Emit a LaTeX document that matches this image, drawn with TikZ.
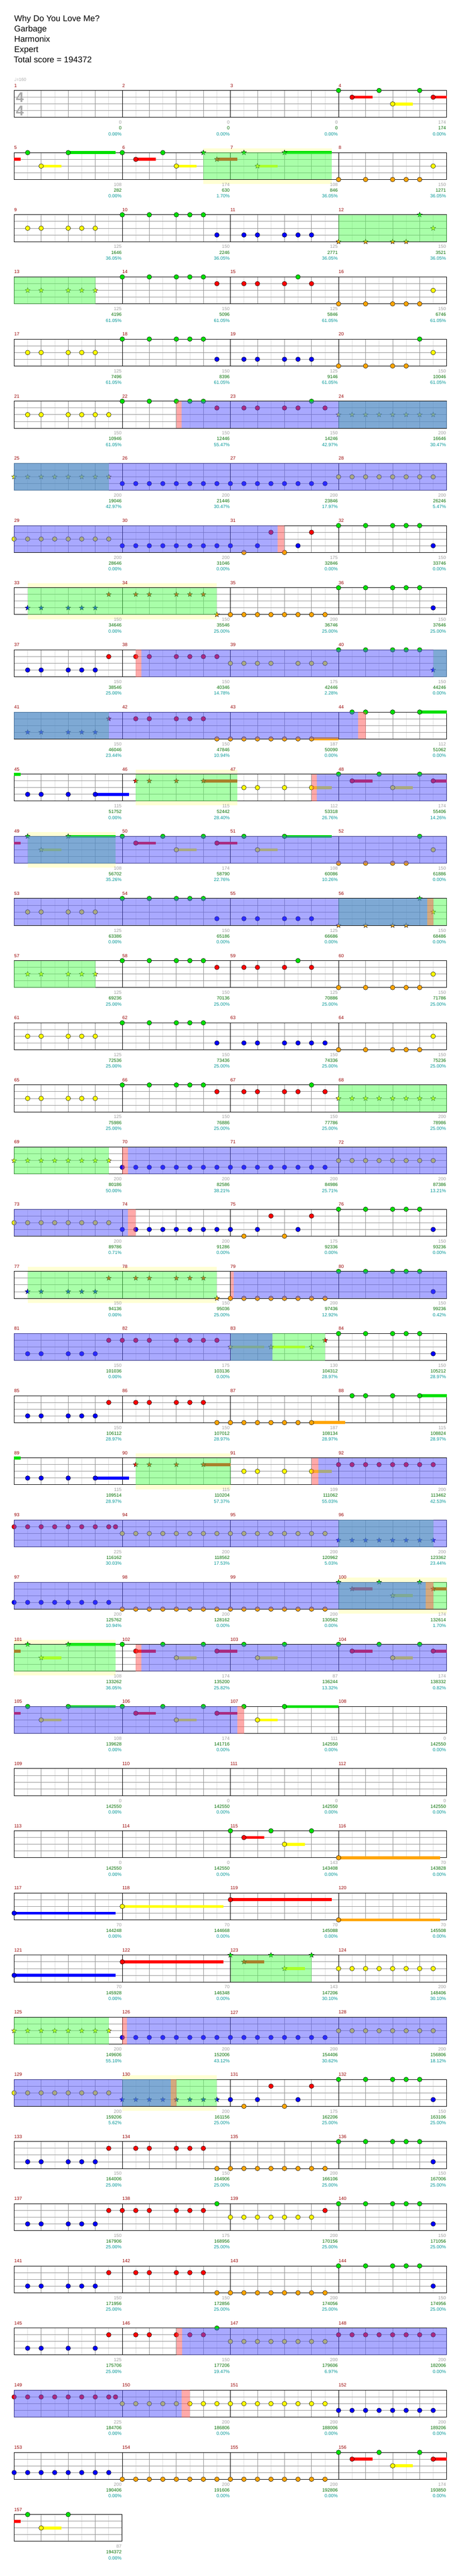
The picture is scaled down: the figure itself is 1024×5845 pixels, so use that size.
\documentclass[tikz,border=0pt]{standalone}
\usepackage{fontspec}
\setmainfont{Liberation Sans}
\newfontfamily\tempofont{DejaVu Sans}
\usepackage{tikz}
\usetikzlibrary{shapes.geometric}
\usepackage{xcolor}
\definecolor{Lane0}{HTML}{00E000}
\definecolor{Lane1}{HTML}{FF0000}
\definecolor{Lane2}{HTML}{FFFF00}
\definecolor{Lane3}{HTML}{0000FF}
\definecolor{Lane4}{HTML}{FFA500}
\definecolor{SpGreen}{RGB}{85,255,85}
\definecolor{OdBlue}{RGB}{85,85,255}
\definecolor{HitRed}{RGB}{255,85,85}
\definecolor{GlowYellow}{RGB}{255,255,212}
\definecolor{GridLight}{RGB}{222,222,222}
\definecolor{GridGray}{RGB}{150,150,150}
\definecolor{BarRed}{RGB}{153,0,0}
\definecolor{ScoreGray}{RGB}{160,160,160}
\definecolor{TotalGreen}{RGB}{0,110,0}
\definecolor{PctTeal}{RGB}{0,150,150}
\definecolor{SigGray}{RGB}{170,170,170}

\pgfdeclarelayer{base}
\pgfdeclarelayer{bg}
\pgfdeclarelayer{sp}
\pgfdeclarelayer{over}
\pgfsetlayers{base,bg,main,sp,over}

\tikzset{
  eighthline/.style={draw=GridLight, line width=0.8pt},
  beatline/.style={draw=GridGray, line width=0.8pt},
  barline/.style={draw=black, line width=0.8pt},
  laneline/.style={draw=GridGray, line width=1.1pt},
  staffline/.style={draw=black, line width=1.2pt},
  gem/.style={draw=black, line width=0.6pt},
  stargem/.style={star, star points=5, star point ratio=2.3, minimum size=12pt,
    inner sep=0pt, draw=black, line width=0.5pt},
  barnum/.style={anchor=west, inner sep=0pt, text=BarRed, font=\fontsize{10.5}{12}\selectfont},
  scorelab/.style={anchor=east, inner sep=0pt, xshift=-1.5pt, text=ScoreGray, font=\fontsize{10.5}{12}\selectfont},
  totallab/.style={anchor=east, inner sep=0pt, xshift=-1.5pt, text=TotalGreen, font=\fontsize{10.5}{12}\selectfont},
  pctlab/.style={anchor=east, inner sep=0pt, xshift=-1.5pt, text=PctTeal, font=\fontsize{10.5}{12}\selectfont},
  titletext/.style={anchor=base west, inner sep=0pt, font=\fontsize{19}{22}\selectfont},
  timesig/.style={inner sep=0pt, text=SigGray, font=\fontsize{32}{36}\selectfont\bfseries},
  tempo/.style={anchor=west, inner sep=0pt, text=SigGray, font=\fontsize{10}{12}\selectfont},
}

% one row of the chart: row, first bar, bars, scores, content
\newcommand{\chartRow}[5]{%
  \pgfmathsetmacro{\rtop}{205.3+141.03*(#1-1)}%
  \pgfmathtruncatemacro{\neighth}{8*#3}%
  \pgfmathtruncatemacro{\nlast}{8*#3-1}%
  \def\rowid{#1}%
  \begin{scope}[shift={(32,\rtop)}, x=30.625pt, y=-15.25pt]
    \fill[white] (0,0) rectangle (\neighth,4);
    \foreach \e in {1,...,\nlast} \draw[eighthline] (\e,0) -- (\e,4);
    \foreach \e in {2,4,...,\nlast} \draw[beatline] (\e,0) -- (\e,4);
    \foreach \e in {1,2,3} \draw[laneline] (0,\e) -- (\neighth,\e);
    \foreach \i in {1,...,#3} {
      \pgfmathtruncatemacro{\mnum}{#2+\i-1}
      \draw[barline] (8*\i-8,0) -- (8*\i-8,4);
      \node[barnum] (bar\mnum) at (8*\i-8,-0.74) {\mnum};
    }
    \foreach \msc/\mtot/\mpct [count=\i] in {#4} {
      \node[scorelab] (sc\rowid-\i) at (8*\i,4.75) {\msc};
      \node[totallab] (tot\rowid-\i) at (8*\i,5.6) {\mtot};
      \node[pctlab] (pct\rowid-\i) at (8*\i,6.47) {\mpct\%};
    }
    \draw[staffline] (0,0) rectangle (\neighth,4);
    #5
  \end{scope}}
\newcommand{\drawNotes}[2]{\foreach \p in {#2} \filldraw[gem, fill=Lane#1] (\p,#1) circle[radius=5.3pt];}
\newcommand{\drawStars}[2]{\foreach \p in {#2} \node[stargem, fill=Lane#1] (st\rowid-#1-\p) at (\p,#1) {};}
\newcommand{\drawSustain}[3]{\draw[line width=6.6pt, Lane#1] (#2,#1) -- (#3,#1);}
\newcommand{\spZone}[2]{\begin{pgfonlayer}{sp}\fill[SpGreen, opacity=0.5] (#1,0) rectangle (#2,4);\end{pgfonlayer}}
\newcommand{\odZone}[2]{\begin{pgfonlayer}{over}\fill[OdBlue, opacity=0.5] (#1,0) rectangle (#2,4);\end{pgfonlayer}}
\newcommand{\hitZone}[2]{\begin{pgfonlayer}{over}\fill[HitRed, opacity=0.5] (#1,0) rectangle (#2,4);\end{pgfonlayer}}
\newcommand{\glowZone}[2]{\begin{pgfonlayer}{bg}\fill[GlowYellow] (#1,-0.656) rectangle (#2,4.656);\end{pgfonlayer}}

\begin{document}
\begin{tikzpicture}[x=1pt, y=-1pt]
  \useasboundingbox (0,0) rectangle (1024,5845);
  \begin{pgfonlayer}{base}\fill[white] (0,0) rectangle (1024,5845);\end{pgfonlayer}

  \node[titletext] (song) at (32,48.3) {Why Do You Love Me?};
  \node[titletext] (artist) at (32,71.65) {Garbage};
  \node[titletext] (charter) at (32,95) {Harmonix};
  \node[titletext] (level) at (32,118.35) {Expert};
  \node[titletext] (total) at (31,141.7) {Total score = 194372};

  \chartRow{1}{1}{4}{0/0/0.00,0/0/0.00,0/0/0.00,174/174/0.00}{%
    \node[tempo] (tempo) at (0,-1.59) {{\tempofont ♩}=160};
    \node[timesig] (sigtop) at (0.42,1) {4};
    \node[timesig] (sigbot) at (0.42,3) {4};
    \drawSustain{1}{25}{26.5}\drawSustain{1}{31}{32}\drawSustain{2}{28}{29.5}
    \drawNotes{0}{24,27,30}\drawNotes{1}{25,31}\drawNotes{2}{28}}
  \chartRow{2}{5}{4}{108/282/0.00,174/630/1.70,108/846/36.05,150/1271/36.05}{%
    \glowZone{14}{23.5}\spZone{14}{23.5}
    \drawSustain{0}{4}{7.5}\drawSustain{0}{20}{23.5}
    \drawSustain{1}{0}{0.5}\drawSustain{1}{9}{10.5}\drawSustain{1}{15}{16.5}
    \drawSustain{2}{2}{3.5}\drawSustain{2}{12}{13.5}\drawSustain{2}{18}{19.5}
    \drawNotes{0}{1,4,8,11}\drawNotes{1}{9}\drawNotes{2}{2,12,31}\drawNotes{4}{24,26,28,29,30}
    \drawStars{0}{14,17,20}\drawStars{1}{15}\drawStars{2}{18}}
  \chartRow{3}{9}{4}{125/1646/36.05,150/2246/36.05,125/2771/36.05,150/3521/36.05}{%
    \spZone{24}{32}
    \drawNotes{2}{1,2,4,5,6}\drawNotes{0}{8,10,12,13,14}\drawNotes{3}{15,17,18,20,21,22}
    \drawStars{0}{30}\drawStars{2}{31}\drawStars{4}{24,26,28,29}}
  \chartRow{4}{13}{4}{125/4196/61.05,150/5096/61.05,125/5846/61.05,150/6746/61.05}{%
    \spZone{0}{6}
    \drawStars{2}{1,2,4,5,6}
    \drawNotes{0}{8,10,12,13,14,21}\drawNotes{1}{15,17,18,20,22}\drawNotes{2}{31}\drawNotes{4}{24,26,28,29,30}}
  \chartRow{5}{17}{4}{125/7496/61.05,150/8396/61.05,125/9146/61.05,150/10046/61.05}{%
    \drawNotes{2}{1,2,4,5,6,31}\drawNotes{0}{8,10,12,13,14,30}\drawNotes{3}{15,17,18,20,21,22}\drawNotes{4}{24,26,28,29}}
  \chartRow{6}{21}{4}{150/10946/61.05,150/12446/55.47,150/14246/42.97,200/16646/30.47}{%
    \hitZone{12}{12.4}\odZone{12.4}{32}\spZone{24}{32}
    \drawNotes{2}{1,2,4,5,6,7}\drawNotes{0}{8,10,12,13,14,22}\drawNotes{1}{15,17,18,20,21,23}
    \drawStars{2}{24,...,31}}
  \chartRow{7}{25}{4}{200/19046/42.97,200/21446/30.47,200/23846/17.97,200/26246/5.47}{%
    \spZone{0}{7}\odZone{0}{32}
    \drawStars{2}{0,...,7}\drawNotes{3}{8,...,23}\drawNotes{2}{24,...,31}}
  \chartRow{8}{29}{4}{200/28646/0.00,200/31046/0.00,175/32846/0.00,150/33746/0.00}{%
    \odZone{0}{19.5}\hitZone{19.5}{20}
    \drawNotes{2}{0,...,7}\drawNotes{3}{8,...,16,18,21,31}\drawNotes{4}{17,20}\drawNotes{1}{19,22}
    \drawNotes{0}{24,26,28,29,30}}
  \chartRow{9}{33}{4}{150/34646/0.00,150/35546/25.00,200/36746/25.00,150/37646/25.00}{%
    \glowZone{1}{15}\spZone{1}{15}
    \drawStars{3}{1,2,4,5,6}\drawStars{1}{7,9,10,12,13,14}\drawStars{4}{15}
    \drawNotes{4}{16,...,23}\drawNotes{0}{24,26,28,29,30}\drawNotes{3}{31}}
  \chartRow{10}{37}{4}{150/38546/25.00,150/40346/14.78,175/42446/2.28,150/44246/0.00}{%
    \hitZone{9}{9.43}\odZone{9.43}{32}\spZone{31}{32}
    \drawNotes{3}{1,2,4,5,6}\drawNotes{1}{7,9,10,12,13,14,15}\drawNotes{2}{16,17,18,19,21,22,23}
    \drawNotes{0}{24,26,28,29,30}\drawStars{3}{31}}
  \chartRow{11}{41}{4}{150/46046/23.44,150/47846/10.94,187/50090/0.00,112/51062/0.00}{%
    \spZone{0}{7}\odZone{0}{25.44}\hitZone{25.44}{26}
    \drawStars{3}{1,2,4,5,6}\drawStars{1}{7}
    \drawSustain{4}{22}{24}\drawSustain{0}{30}{32}
    \drawNotes{1}{9,10,12,13,14}\drawNotes{4}{15,...,22}\drawNotes{0}{25,26,28,30}}
  \chartRow{12}{45}{4}{115/51752/0.00,115/52442/28.40,112/53318/26.76,174/55406/14.26}{%
    \glowZone{9}{16.5}\spZone{9}{16.5}\hitZone{22}{22.4}\odZone{22.4}{32}
    \drawSustain{0}{0}{0.5}\drawSustain{3}{6}{8.5}\drawSustain{1}{14}{16.5}
    \drawSustain{1}{25}{26.5}\drawSustain{1}{31}{32}\drawSustain{2}{22}{23.5}\drawSustain{2}{28}{29.5}
    \drawNotes{3}{1,2,4,6}\drawNotes{2}{17,18,20,22,28}\drawNotes{0}{24,27,30}\drawNotes{1}{25,31}
    \drawStars{1}{9,10,12,14}}
  \chartRow{13}{49}{4}{108/56702/35.26,174/58790/22.76,108/60086/10.26,150/61886/0.00}{%
    \odZone{0}{32}\glowZone{1}{7.5}\spZone{1}{7.5}
    \drawSustain{1}{0}{0.5}\drawSustain{1}{9}{10.5}\drawSustain{1}{15}{16.5}
    \drawSustain{0}{4}{7.5}\drawSustain{0}{20}{23.5}
    \drawSustain{2}{2}{3.5}\drawSustain{2}{12}{13.5}\drawSustain{2}{18}{19.5}
    \drawStars{0}{1,4}\drawStars{2}{2}
    \drawNotes{0}{8,11,14,17,20,30}\drawNotes{1}{9,15}\drawNotes{2}{12,18,31}\drawNotes{4}{24,26,28,29}}
  \chartRow{14}{53}{4}{125/63386/0.00,150/65186/0.00,125/66686/0.00,150/68486/0.00}{%
    \odZone{0}{30.56}\hitZone{30.56}{31}\spZone{24}{32}
    \drawNotes{2}{1,2,4,5,6}\drawNotes{0}{8,10,12,13,14}\drawNotes{3}{15,17,18,20,21,22}
    \drawStars{4}{24,26,28,29}\drawStars{0}{30}\drawStars{2}{31}}
  \chartRow{15}{57}{4}{125/69236/25.00,150/70136/25.00,125/70886/25.00,150/71786/25.00}{%
    \spZone{0}{6}\drawStars{2}{1,2,4,5,6}
    \drawNotes{0}{8,10,12,13,14,21}\drawNotes{1}{15,17,18,20,22}\drawNotes{2}{31}\drawNotes{4}{24,26,28,29,30}}
  \chartRow{16}{61}{4}{125/72536/25.00,150/73436/25.00,150/74336/25.00,150/75236/25.00}{%
    \drawNotes{2}{1,2,4,5,6,31}\drawNotes{0}{8,10,12,13,14}\drawNotes{3}{15,17,18,20,21,22,23}
    \drawNotes{4}{24,26,28,29,30}}
  \chartRow{17}{65}{4}{125/75986/25.00,150/76886/25.00,150/77786/25.00,200/78986/25.00}{%
    \spZone{24}{32}
    \drawNotes{2}{1,2,4,5,6}\drawNotes{0}{8,10,12,13,14,22}\drawNotes{1}{15,17,18,20,21,23}
    \drawStars{2}{24,...,31}}
  \chartRow{18}{69}{4}{200/80186/50.00,200/82586/38.21,200/84986/25.71,200/87386/13.21}{%
    \spZone{0}{7}\hitZone{8}{8.43}\odZone{8.43}{32}
    \drawStars{2}{0,...,7}\drawNotes{3}{8,...,23}\drawNotes{2}{24,...,31}}
  \chartRow{19}{73}{4}{200/89786/0.71,200/91286/0.00,175/92336/0.00,150/93236/0.00}{%
    \odZone{0}{8.43}\hitZone{8.43}{9}
    \drawNotes{2}{0,...,7}\drawNotes{3}{8,...,16,18,21,31}\drawNotes{4}{17,20}\drawNotes{1}{19,22}
    \drawNotes{0}{24,26,28,29,30}}
  \chartRow{20}{77}{4}{150/94136/0.00,150/95036/25.00,200/97436/12.92,150/99236/0.42}{%
    \glowZone{1}{15}\spZone{1}{15}\hitZone{16}{16.26}\odZone{16.26}{32}
    \drawStars{3}{1,2,4,5,6}\drawStars{1}{7,9,10,12,13,14}\drawStars{4}{15}
    \drawNotes{4}{16,...,23}\drawNotes{0}{24,26,28,29,30}\drawNotes{3}{31}}
  \chartRow{21}{81}{4}{150/101036/0.00,175/103136/0.00,130/104312/28.97,150/105212/28.97}{%
    \odZone{0}{19.1}\spZone{16}{23}
    \drawNotes{3}{1,2,4,5,6,31}\drawNotes{1}{7,8,9,10,12,13,14,15}\drawNotes{0}{24,26,28,29,30}
    \drawSustain{2}{16}{18.5}\drawSustain{2}{19}{21.5}
    \drawStars{2}{16,19,22}\drawStars{1}{23}}
  \chartRow{22}{85}{4}{150/106112/28.97,150/107012/28.97,187/108134/28.97,115/108824/28.97}{%
    \drawSustain{4}{22}{24.5}\drawSustain{0}{30}{32}
    \drawNotes{3}{1,2,4,5,6}\drawNotes{1}{7,9,10,12,13,14}\drawNotes{4}{15,...,22}\drawNotes{0}{25,26,28,30}}
  \chartRow{23}{89}{4}{115/109514/28.97,115/110204/57.37,109/111062/55.03,200/113462/42.53}{%
    \glowZone{9}{16}\spZone{9}{16}\hitZone{22}{22.5}\odZone{22.5}{32}
    \drawSustain{0}{0}{0.5}\drawSustain{3}{6}{8.5}\drawSustain{1}{14}{16}\drawSustain{2}{22}{23.5}
    \drawNotes{3}{1,2,4,6}\drawNotes{2}{17,18,20,22}\drawNotes{1}{24,...,31}
    \drawStars{1}{9,10,12,14}}
  \chartRow{24}{93}{4}{225/116162/30.03,200/118562/17.53,200/120962/5.03,200/123362/23.44}{%
    \odZone{0}{32}\spZone{24}{31}
    \drawNotes{1}{0,1,2,3,4,5,6,7,7.5}\drawNotes{2}{8,...,23}\drawStars{3}{24,...,31}}
  \chartRow{25}{97}{4}{200/125762/10.94,200/128162/0.00,200/130562/0.00,174/132614/1.70}{%
    \odZone{0}{30.45}\hitZone{30.45}{31}\glowZone{24}{32}\spZone{24}{32}
    \drawNotes{3}{0,...,7}\drawNotes{4}{8,...,23}
    \drawSustain{1}{25}{26.5}\drawSustain{1}{31}{32}\drawSustain{2}{28}{29.5}
    \drawStars{0}{24,27,30}\drawStars{1}{25,31}\drawStars{2}{28}}
  \chartRow{26}{101}{4}{108/133262/36.05,174/135200/25.82,87/136244/13.32,174/138332/0.82}{%
    \glowZone{0}{7.5}\spZone{0}{7.5}\hitZone{9}{9.43}\odZone{9.43}{32}
    \drawSustain{1}{0}{0.5}\drawSustain{1}{9}{10.5}\drawSustain{1}{15}{16.5}\drawSustain{1}{25}{26.5}\drawSustain{1}{31}{32}
    \drawSustain{0}{4}{7.5}
    \drawSustain{2}{2}{3.5}\drawSustain{2}{12}{13.5}\drawSustain{2}{18}{19.5}\drawSustain{2}{28}{29.5}
    \drawStars{0}{1,4}\drawStars{2}{2}
    \drawNotes{0}{8,11,14,17,20,24,27,30}\drawNotes{1}{9,15,25,31}\drawNotes{2}{12,18,28}}
  \chartRow{27}{105}{4}{108/139628/0.00,174/141716/0.00,111/142550/0.00,0/142550/0.00}{%
    \odZone{0}{16.5}\hitZone{16.5}{17}
    \drawSustain{1}{0}{0.5}\drawSustain{1}{9}{10.5}\drawSustain{1}{15}{16.5}
    \drawSustain{0}{4}{7.5}\drawSustain{0}{20}{24}
    \drawSustain{2}{2}{3.5}\drawSustain{2}{12}{13.5}\drawSustain{2}{18}{19.5}
    \drawNotes{0}{1,4,8,11,14,17,20}\drawNotes{1}{9,15}\drawNotes{2}{2,12,18}}
  \chartRow{28}{109}{4}{0/142550/0.00,0/142550/0.00,0/142550/0.00,0/142550/0.00}{}
  \chartRow{29}{113}{4}{0/142550/0.00,0/142550/0.00,143/143408/0.00,70/143828/0.00}{%
    \drawSustain{1}{17}{18.5}\drawSustain{2}{20}{21.5}\drawSustain{4}{24}{31.5}
    \drawNotes{0}{16,19,22}\drawNotes{1}{17}\drawNotes{2}{20}\drawNotes{4}{24}}
  \chartRow{30}{117}{4}{70/144248/0.00,70/144668/0.00,70/145088/0.00,70/145508/0.00}{%
    \drawSustain{3}{0}{7.5}\drawSustain{2}{8}{15.5}\drawSustain{1}{16}{23.5}\drawSustain{4}{24}{31.5}
    \drawNotes{3}{0}\drawNotes{2}{8}\drawNotes{1}{16}\drawNotes{4}{24}}
  \chartRow{31}{121}{4}{70/145928/0.00,70/146348/0.00,143/147206/30.10,200/148406/30.10}{%
    \spZone{16}{22}
    \drawSustain{3}{0}{7.5}\drawSustain{1}{8}{15.5}\drawSustain{1}{17}{18.5}\drawSustain{2}{20}{21.5}
    \drawNotes{3}{0}\drawNotes{1}{8}\drawNotes{2}{24,...,31}
    \drawStars{0}{16,19,22}\drawStars{1}{17}\drawStars{2}{20}}
  \chartRow{32}{125}{4}{200/149606/55.10,200/152006/43.12,200/154406/30.62,200/156806/18.12}{%
    \spZone{0}{7}\hitZone{8}{8.33}\odZone{8.33}{32}
    \drawStars{2}{0,...,7}\drawNotes{3}{8,...,23}\drawNotes{2}{24,...,31}}
  \chartRow{33}{129}{4}{200/159206/5.62,200/161156/25.00,175/162206/25.00,150/163106/25.00}{%
    \odZone{0}{11.58}\hitZone{11.58}{12}\glowZone{8}{15}\spZone{8}{15}
    \drawNotes{2}{0,...,7}\drawStars{3}{8,...,15}
    \drawNotes{3}{16,18,21,31}\drawNotes{4}{17,20}\drawNotes{1}{19,22}\drawNotes{0}{24,26,28,29,30}}
  \chartRow{34}{133}{4}{150/164006/25.00,150/164906/25.00,200/166106/25.00,150/167006/25.00}{%
    \drawNotes{3}{1,2,4,5,6,31}\drawNotes{1}{7,9,10,12,13,14}\drawNotes{4}{15,...,23}\drawNotes{0}{24,26,28,29,30}}
  \chartRow{35}{137}{4}{150/167906/25.00,175/168956/25.00,200/170156/25.00,150/171056/25.00}{%
    \drawNotes{3}{1,2,4,5,6,31}\drawNotes{1}{7,8,9,10,12,13,14,23}\drawNotes{0}{15,24,26,28,29,30}
    \drawNotes{2}{16,...,22}}
  \chartRow{36}{141}{4}{150/171956/25.00,150/172856/25.00,200/174056/25.00,150/174956/25.00}{%
    \drawNotes{3}{1,2,4,5,6,31}\drawNotes{1}{7,9,10,12,13,14}\drawNotes{4}{15,...,23}\drawNotes{0}{24,26,28,29,30}}
  \chartRow{37}{145}{4}{125/175706/25.00,150/177206/19.47,200/179606/6.97,200/182006/0.00}{%
    \hitZone{12}{12.43}\odZone{12.43}{32}
    \drawNotes{3}{1,2,4,6}\drawNotes{1}{7,9,10,12,13,14,24,25,26,27,28,29,30,31}\drawNotes{0}{15}
    \drawNotes{2}{16,...,23}}
  \chartRow{38}{149}{4}{225/184706/0.00,200/186806/0.00,200/188006/0.00,200/189206/0.00}{%
    \odZone{0}{12.4}\hitZone{12.4}{13}
    \drawNotes{1}{0,1,2,3,4,5,6,7,7.5}\drawNotes{2}{8,...,23}\drawNotes{3}{24,...,31}}
  \chartRow{39}{153}{4}{200/190406/0.00,200/191606/0.00,200/192806/0.00,174/193850/0.00}{%
    \drawSustain{1}{25}{26.5}\drawSustain{1}{31}{32}\drawSustain{2}{28}{29.5}
    \drawNotes{3}{0,...,7}\drawNotes{4}{8,...,23}\drawNotes{0}{24,27,30}\drawNotes{1}{25,31}\drawNotes{2}{28}}
  \chartRow{40}{157}{1}{87/194372/0.00}{%
    \drawSustain{1}{0}{0.5}\drawSustain{2}{2}{3.5}
    \drawNotes{0}{1,4}\drawNotes{2}{2}}
\end{tikzpicture}
\end{document}
